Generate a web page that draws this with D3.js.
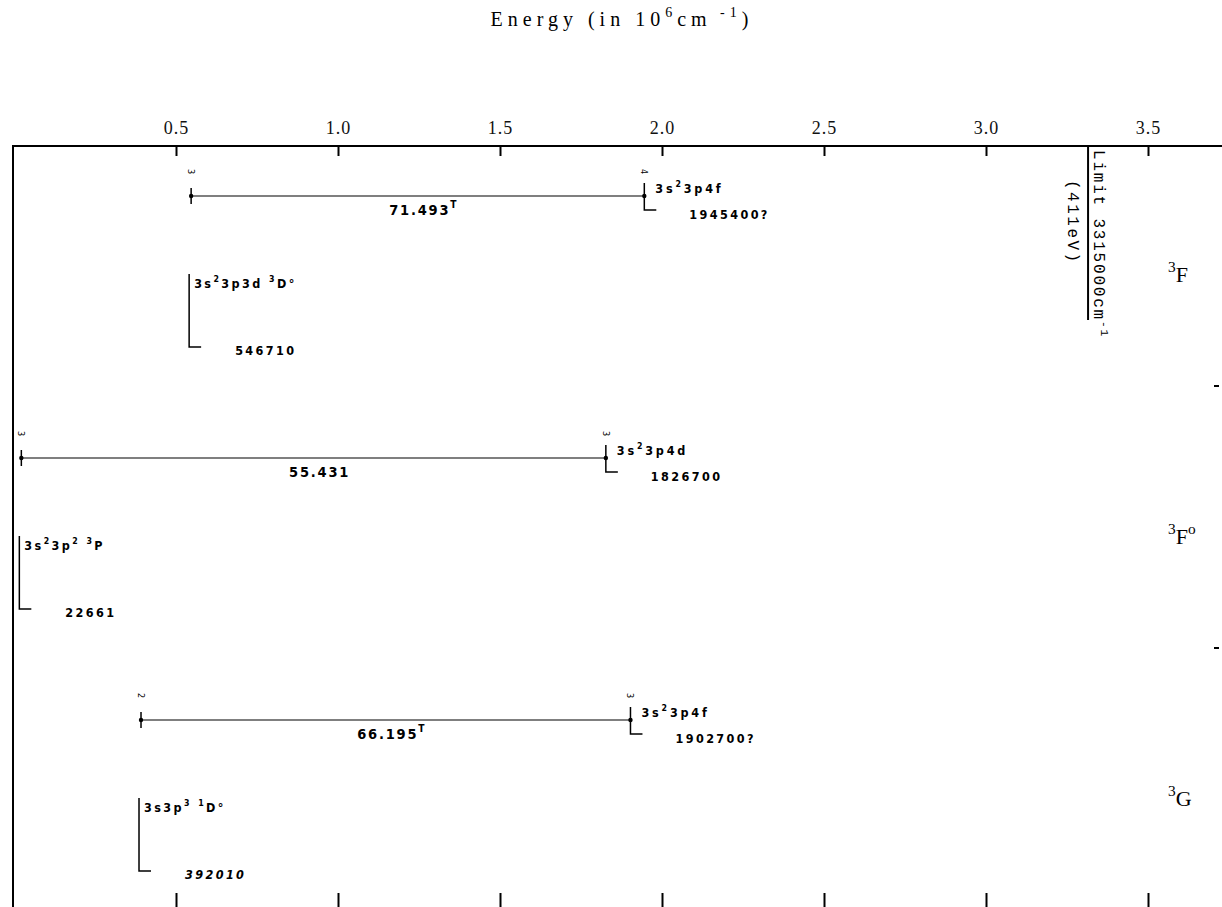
<!DOCTYPE html>
<html>
<head>
<meta charset="utf-8">
<script src="https://cdn.jsdelivr.net/npm/d3@7"></script>
<style>
  body { margin: 0; background: #fff; }
  svg { display: block; }
</style>
</head>
<body>
<script>
const width = 1222;
const height = 907;

// Data, energies in cm^-1
const terms = ['^3F', '^3F^o', '^3G'];
const lowerEnergy = [546710, 22661, 392010];
const upperEnergy = [1945400, 1826700, 1902700];
const lowerLabel = ['546710', '22661', '392010'];
const upperLabel = ['1945400?', '1826700', '1902700?'];
const lowerConfig = ['3s^23p3d  ^3D°', '3s^23p^2  ^3P', '3s3p^3  ^1D°'];
const upperConfig = ['3s^23p4f', '3s^23p4d', '3s^23p4f'];
const lowerJ = ['3', '3', '2'];
const upperJ = ['4', '3', '3'];
const wavelengths = ['71.493^T', '55.431', '66.195^T'];
const limitEnergy = 3315000;
const tickValues = [0.5, 1.0, 1.5, 2.0, 2.5, 3.0, 3.5];

const svg = d3.select('body').append('svg')
  .attr('width', width)
  .attr('height', height);

const x = d3.scaleLinear().domain([0, 3.5]).range([14, 1148]);
const rowY = d3.scaleLinear().domain([0, 2]).range([196, 720]);
const xe = (e) => x(e / 1e6);

const axisTopY = 146;
const mono = '"Liberation Mono", "DejaVu Sans Mono", monospace';
const serif = '"Liberation Serif", "DejaVu Serif", serif';
const cond = '"DejaVu Sans Condensed", "DejaVu Sans", sans-serif';

// writes a label with ^x or ^{xx} superscripts as tspans
function richText(sel, str, size) {
  const parts = [];
  const re = /\^\{([^}]*)\}|\^(.)/g;
  let last = 0, m;
  while ((m = re.exec(str)) !== null) {
    if (m.index > last) parts.push([str.slice(last, m.index), false]);
    parts.push([m[1] !== undefined ? m[1] : m[2], true]);
    last = re.lastIndex;
  }
  if (last < str.length) parts.push([str.slice(last), false]);
  let up = false;
  parts.forEach(([t, sup]) => {
    const ts = sel.append('tspan').text(t);
    if (sup && !up) { ts.attr('dy', -size * 0.45).attr('font-size', size * 0.7); up = true; }
    else if (sup) { ts.attr('font-size', size * 0.7); }
    else if (up) { ts.attr('dy', size * 0.45); up = false; }
  });
  return sel;
}

// title
richText(svg.append('text')
  .attr('x', 622).attr('y', 26)
  .attr('text-anchor', 'middle')
  .attr('font-family', serif)
  .attr('font-size', 20)
  .attr('letter-spacing', 5), 'Energy (in 10^6cm^{ -1})', 20);

// top axis
const gTop = svg.append('g')
  .attr('transform', `translate(0,${axisTopY})`)
  .call(d3.axisTop(x).tickValues(tickValues).tickFormat(d3.format('.1f'))
    .tickSizeInner(-10).tickSizeOuter(0).tickPadding(12));
gTop.select('.domain').remove();
gTop.selectAll('line').attr('stroke', '#000').attr('stroke-width', 2);
gTop.selectAll('text')
  .attr('font-family', serif)
  .attr('font-size', 18)
  .attr('letter-spacing', 1)
  .attr('fill', '#111');

svg.append('line')
  .attr('x1', 12).attr('x2', width)
  .attr('y1', axisTopY).attr('y2', axisTopY)
  .attr('stroke', '#000').attr('stroke-width', 2);

// left frame
svg.append('line')
  .attr('x1', 13).attr('x2', 13)
  .attr('y1', axisTopY - 1).attr('y2', height)
  .attr('stroke', '#000').attr('stroke-width', 2);

// bottom ticks (axis itself falls off the page)
const gBot = svg.append('g')
  .attr('transform', `translate(0,${height})`)
  .call(d3.axisBottom(x).tickValues(tickValues).tickFormat('')
    .tickSizeInner(-14).tickSizeOuter(0));
gBot.select('.domain').remove();
gBot.selectAll('line').attr('stroke', '#000').attr('stroke-width', 2);

// series limit
const xl = xe(limitEnergy);
svg.append('line')
  .attr('x1', xl).attr('x2', xl)
  .attr('y1', axisTopY).attr('y2', 320)
  .attr('stroke', '#000').attr('stroke-width', 2);
richText(svg.append('text')
  .attr('transform', `translate(${xl + 6},150) rotate(90)`)
  .attr('font-family', mono)
  .attr('font-size', 16)
  .attr('letter-spacing', 1.8), 'Limit 3315000cm^{-1}', 16);
svg.append('text')
  .attr('transform', `translate(${xl - 20},180) rotate(90)`)
  .attr('font-family', mono)
  .attr('font-size', 16)
  .attr('letter-spacing', 2.5)
  .text('(411eV)');

// one row per multiplet
const rows = svg.selectAll('g.row').data(terms).join('g').attr('class', 'row');

rows.each(function (term, i) {
  const g = d3.select(this);
  const r = rowY(i);
  const x0 = xe(lowerEnergy[i]);
  const x1 = xe(upperEnergy[i]);

  // transition
  g.append('line')
    .attr('x1', x0).attr('x2', x1).attr('y1', r).attr('y2', r)
    .attr('stroke', '#000').attr('stroke-width', 1.2);
  g.append('path')
    .attr('d', `M${x0},${r - 8}V${r + 8}`)
    .attr('stroke', '#000').attr('stroke-width', 1.5).attr('fill', 'none');
  g.append('path')
    .attr('d', `M${x1},${r - 13}V${r + 14}H${x1 + 12}`)
    .attr('stroke', '#000').attr('stroke-width', 1.5).attr('fill', 'none');
  g.selectAll('circle').data([x0, x1]).join('circle')
    .attr('cx', (d) => d).attr('cy', r).attr('r', 2.2).attr('fill', '#000');

  // J values
  g.selectAll('text.j').data([[x0, lowerJ[i]], [x1, upperJ[i]]]).join('text')
    .attr('class', 'j')
    .attr('transform', (d) => `translate(${d[0] - 3},${r - 27}) rotate(90)`)
    .attr('font-family', cond)
    .attr('font-size', 9)
    .text((d) => d[1]);

  // wavelength
  richText(g.append('text')
    .attr('x', (x0 + x1) / 2 + 6).attr('y', r + 19)
    .attr('text-anchor', 'middle')
    .attr('font-family', cond)
    .attr('font-weight', 'bold')
    .attr('font-size', 14.5)
    .attr('letter-spacing', 1.8), wavelengths[i], 14.5);

  // upper level
  richText(g.append('text')
    .attr('x', x1 + 11).attr('y', r - 3)
    .attr('font-family', cond)
    .attr('font-weight', 'bold')
    .attr('font-size', 12.5)
    .attr('letter-spacing', 2.8), upperConfig[i], 12.5);
  g.append('text')
    .attr('x', x1 + 45).attr('y', r + 23)
    .attr('font-family', cond)
    .attr('font-weight', 'bold')
    .attr('font-size', 12.5)
    .attr('letter-spacing', 2.4)
    .text(upperLabel[i]);

  // lower level
  g.append('path')
    .attr('d', `M${x0 - 2},${r + 78}V${r + 151}H${x0 + 10}`)
    .attr('stroke', '#000').attr('stroke-width', 1.5).attr('fill', 'none');
  richText(g.append('text')
    .attr('x', x0 + 3).attr('y', r + 92)
    .attr('font-family', cond)
    .attr('font-weight', 'bold')
    .attr('font-size', 12.5)
    .attr('letter-spacing', 2.4), lowerConfig[i], 12.5);
  g.append('text')
    .attr('x', x0 + 44).attr('y', r + 159)
    .attr('font-family', cond)
    .attr('font-weight', 'bold')
    .attr('font-style', i === 2 ? 'italic' : null)
    .attr('font-size', 12.5)
    .attr('letter-spacing', 2.4)
    .text(lowerLabel[i]);

  // term name
  richText(g.append('text')
    .attr('x', 1168).attr('y', r + 86)
    .attr('font-family', serif)
    .attr('font-size', 22), term, 22);

  // separator mark at the right edge
  if (i < terms.length - 1) {
    g.append('line')
      .attr('x1', 1214).attr('x2', 1219)
      .attr('y1', r + 190).attr('y2', r + 190)
      .attr('stroke', '#000').attr('stroke-width', 2);
  }
});
</script>
</body>
</html>
